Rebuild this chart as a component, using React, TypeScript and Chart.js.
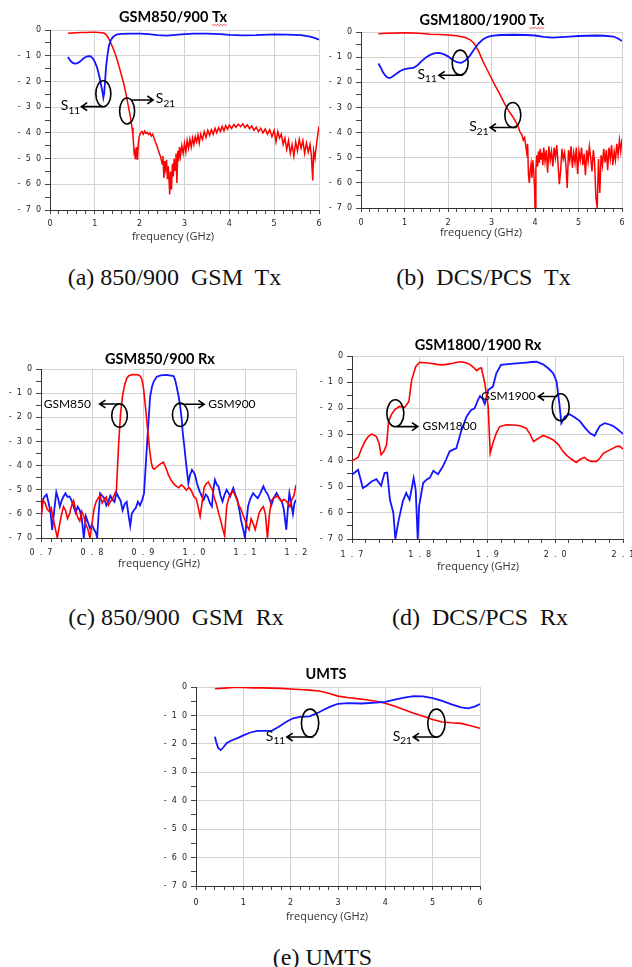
import React, { useEffect, useRef } from "react";
import { Chart, registerables } from "chart.js";

Chart.register(...registerables);

// ================= shared axis data =================
const yMajorTicks = [-70, -60, -50, -40, -30, -20, -10, 0];
const txXMajorTicks = [0, 1, 2, 3, 4, 5, 6];
const rxLowXMajorTicks = [0.7, 0.8, 0.9, 1.0, 1.1, 1.2];
const rxHighXMajorTicks = [1.7, 1.8, 1.9, 2.0, 2.1];

// ================= (a) GSM850/900 Tx =================
const aS11Freq = [0.40, 0.45, 0.50, 0.55, 0.60, 0.65, 0.70, 0.75, 0.80, 0.85, 0.90, 0.95, 1.00, 1.05, 1.10, 1.14, 1.17, 1.19, 1.21, 1.23, 1.25, 1.28, 1.31, 1.35, 1.40, 1.45, 1.50, 1.60, 1.80, 2.00, 2.20, 2.40, 2.60, 2.80, 3.00, 3.20, 3.50, 3.80, 4.00, 4.30, 4.60, 5.00, 5.30, 5.60, 5.80, 5.90, 6.00];
const aS11 = [-10.5, -11.8, -12.7, -13.1, -13.0, -12.5, -11.8, -11.0, -10.5, -10.2, -10.2, -10.9, -12.4, -14.6, -18.0, -21.5, -24.0, -26.3, -24.5, -19.5, -14.5, -10.0, -6.5, -4.2, -2.8, -2.1, -1.7, -1.5, -1.4, -1.4, -1.6, -2.0, -2.2, -1.9, -1.6, -1.4, -1.4, -1.6, -1.9, -2.1, -2.0, -1.7, -1.8, -2.0, -2.6, -3.1, -3.8];

const aS21Freq = [0.40, 0.50, 0.60, 0.70, 0.80, 0.90, 1.00, 1.10, 1.15, 1.20, 1.25, 1.30, 1.35, 1.40, 1.45, 1.50, 1.55, 1.60, 1.65, 1.70, 1.75, 1.80, 1.83, 1.85, 1.87, 1.88, 1.89, 1.90, 1.91, 1.92, 1.93, 1.95, 1.97, 1.99, 2.02, 2.05, 2.08, 2.11, 2.14, 2.17, 2.20, 2.23, 2.26, 2.29, 2.32, 2.35, 2.38, 2.41, 2.44, 2.47, 2.50, 2.52, 2.54, 2.56, 2.58, 2.60, 2.62, 2.64, 2.66, 2.67, 2.69, 2.71, 2.73, 2.75, 2.77, 2.79, 2.81, 2.83, 2.85, 2.87, 2.89, 2.91, 2.94, 2.97, 3.00, 3.03, 3.06, 3.09, 3.12, 3.15, 3.18, 3.21, 3.24, 3.27, 3.30, 3.33, 3.36, 3.40, 3.44, 3.48, 3.52, 3.56, 3.60, 3.64, 3.68, 3.72, 3.76, 3.80, 3.84, 3.88, 3.92, 3.96, 4.00, 4.05, 4.10, 4.15, 4.20, 4.25, 4.30, 4.35, 4.40, 4.45, 4.50, 4.55, 4.60, 4.65, 4.70, 4.75, 4.80, 4.85, 4.90, 4.95, 5.00, 5.04, 5.08, 5.12, 5.16, 5.20, 5.24, 5.28, 5.32, 5.36, 5.40, 5.44, 5.48, 5.52, 5.56, 5.60, 5.64, 5.68, 5.72, 5.76, 5.80, 5.83, 5.86, 5.88, 5.91, 5.94, 5.97, 6.00];
const aS21 = [-1.3, -1.2, -1.1, -1.0, -1.0, -0.9, -0.9, -1.0, -1.1, -1.2, -1.8, -3.0, -4.8, -6.8, -9.0, -11.8, -14.8, -18.0, -21.2, -25.2, -29.8, -34.5, -38.0, -41.0, -46.0, -48.5, -46.0, -50.0, -47.0, -49.0, -45.5, -50.5, -44.0, -41.5, -40.0, -39.5, -40.5, -39.3, -40.2, -39.8, -40.6, -40.0, -41.2, -40.5, -42.0, -43.5, -44.8, -46.5, -48.0, -49.5, -52.0, -49.0, -57.5, -51.0, -54.0, -50.5, -58.0, -53.0, -60.0, -64.0, -55.0, -62.0, -52.0, -57.0, -50.0, -54.5, -48.0, -59.5, -47.0, -51.0, -45.5, -49.0, -45.0, -48.0, -44.0, -47.5, -43.0, -46.0, -42.5, -45.5, -42.0, -44.5, -41.5, -43.5, -40.8, -44.0, -40.5, -42.5, -39.5, -41.8, -39.0, -41.0, -38.8, -40.5, -38.2, -40.0, -38.0, -39.5, -37.5, -39.2, -37.2, -38.6, -37.0, -38.3, -36.8, -37.8, -36.6, -37.6, -36.5, -38.0, -36.9, -38.4, -37.3, -39.0, -37.8, -39.5, -38.2, -40.0, -38.5, -40.5, -38.8, -41.5, -39.0, -43.5, -39.5, -42.0, -40.5, -44.5, -42.0, -46.5, -43.0, -48.0, -44.5, -49.0, -43.5, -47.0, -42.5, -46.0, -43.0, -48.0, -44.0, -47.5, -44.5, -49.0, -58.5, -47.0, -50.0, -45.0, -41.0, -37.5];

// ================= (b) GSM1800/1900 Tx =================
const bS11Freq = [0.40, 0.45, 0.50, 0.55, 0.60, 0.65, 0.70, 0.80, 0.90, 1.00, 1.10, 1.20, 1.30, 1.40, 1.50, 1.60, 1.70, 1.80, 1.90, 2.00, 2.10, 2.20, 2.30, 2.40, 2.50, 2.60, 2.70, 2.80, 2.90, 3.00, 3.20, 3.50, 3.80, 4.00, 4.20, 4.40, 4.60, 4.80, 5.00, 5.20, 5.40, 5.60, 5.80, 5.90, 6.00];
const bS11 = [-12.5, -14.0, -15.8, -17.2, -18.0, -18.3, -18.0, -16.8, -15.5, -14.8, -14.5, -14.3, -13.2, -11.5, -10.0, -9.0, -8.4, -8.3, -8.8, -9.7, -11.0, -12.0, -12.3, -11.3, -9.5, -7.0, -4.6, -3.0, -2.0, -1.5, -1.2, -1.1, -1.2, -1.4, -1.9, -2.2, -2.0, -1.8, -1.6, -1.5, -1.4, -1.5, -1.8, -2.5, -3.6];

const bS21Freq = [0.40, 0.60, 0.80, 1.00, 1.20, 1.40, 1.60, 1.80, 2.00, 2.20, 2.40, 2.50, 2.60, 2.70, 2.80, 2.90, 3.00, 3.10, 3.20, 3.30, 3.40, 3.50, 3.55, 3.60, 3.65, 3.70, 3.73, 3.76, 3.79, 3.81, 3.83, 3.85, 3.87, 3.89, 3.91, 3.93, 3.95, 3.97, 3.99, 4.00, 4.02, 4.04, 4.06, 4.08, 4.10, 4.12, 4.14, 4.16, 4.18, 4.20, 4.23, 4.26, 4.29, 4.32, 4.35, 4.38, 4.41, 4.44, 4.47, 4.50, 4.53, 4.56, 4.59, 4.62, 4.65, 4.68, 4.71, 4.74, 4.77, 4.80, 4.83, 4.86, 4.89, 4.92, 4.95, 4.98, 5.01, 5.04, 5.07, 5.10, 5.13, 5.16, 5.19, 5.22, 5.25, 5.28, 5.31, 5.34, 5.37, 5.40, 5.43, 5.46, 5.49, 5.52, 5.55, 5.58, 5.61, 5.64, 5.67, 5.70, 5.73, 5.76, 5.79, 5.82, 5.85, 5.88, 5.91, 5.94, 5.97, 6.00];
const bS21 = [-0.7, -0.5, -0.4, -0.3, -0.4, -0.6, -0.9, -1.0, -1.2, -1.5, -2.2, -3.0, -4.5, -7.5, -11.5, -15.0, -18.5, -21.8, -25.0, -28.5, -31.5, -34.0, -35.5, -37.0, -39.5, -41.0, -43.0, -42.0, -45.5, -48.0, -44.5, -57.0, -60.0, -55.0, -52.5, -58.0, -51.0, -55.0, -62.0, -70.0, -55.0, -49.0, -53.5, -47.5, -52.0, -46.5, -50.5, -48.0, -53.0, -46.0, -51.5, -47.0, -56.0, -45.5, -51.0, -47.5, -53.5, -46.0, -50.0, -45.0, -52.5, -60.5, -55.0, -46.5, -50.5, -48.0, -53.0, -62.0, -47.0, -51.0, -45.5, -54.0, -48.0, -52.0, -46.0, -56.5, -47.5, -51.0, -46.0, -53.0, -48.5, -57.0, -47.0, -51.5, -45.5, -50.0, -55.5, -47.0, -52.0, -66.0, -70.0, -50.5, -64.0, -49.0, -53.0, -46.5, -52.0, -47.0, -55.0, -46.0, -50.5, -45.0, -53.0, -47.5, -51.0, -44.5, -49.0, -43.0, -47.5, -42.5];

// ================= (c) GSM850/900 Rx =================
const cGsm850Freq = [0.700, 0.704, 0.708, 0.712, 0.716, 0.720, 0.724, 0.728, 0.732, 0.736, 0.740, 0.744, 0.748, 0.752, 0.756, 0.760, 0.764, 0.768, 0.772, 0.776, 0.780, 0.784, 0.788, 0.792, 0.796, 0.800, 0.804, 0.808, 0.812, 0.816, 0.820, 0.824, 0.828, 0.832, 0.836, 0.840, 0.844, 0.848, 0.852, 0.856, 0.860, 0.864, 0.868, 0.872, 0.880, 0.890, 0.895, 0.898, 0.901, 0.904, 0.907, 0.910, 0.913, 0.916, 0.919, 0.922, 0.926, 0.930, 0.935, 0.940, 0.945, 0.950, 0.955, 0.960, 0.965, 0.970, 0.975, 0.980, 0.985, 0.990, 0.995, 1.000, 1.004, 1.008, 1.012, 1.016, 1.020, 1.024, 1.028, 1.032, 1.036, 1.040, 1.044, 1.048, 1.052, 1.056, 1.060, 1.064, 1.068, 1.072, 1.076, 1.080, 1.084, 1.088, 1.092, 1.096, 1.100, 1.104, 1.108, 1.112, 1.116, 1.120, 1.124, 1.128, 1.132, 1.136, 1.140, 1.144, 1.148, 1.152, 1.156, 1.160, 1.164, 1.168, 1.172, 1.176, 1.180, 1.184, 1.188, 1.192, 1.196, 1.200];
const cGsm850 = [-62.4, -54.5, -55.5, -58.0, -59.0, -57.5, -62.0, -66.0, -70.0, -65.0, -60.5, -57.0, -58.5, -62.0, -60.0, -56.5, -54.5, -58.5, -61.5, -63.0, -59.0, -61.0, -64.5, -66.5, -70.0, -64.0, -58.0, -55.0, -53.5, -52.5, -55.5, -54.0, -53.0, -56.5, -55.0, -54.0, -52.0, -50.0, -32.0, -18.5, -11.0, -6.6, -3.9, -2.8, -2.3, -2.4, -3.0, -4.5, -8.0, -14.0, -20.5, -27.0, -33.5, -38.5, -41.0, -41.5, -40.8, -40.0, -39.2, -38.6, -41.0, -44.0, -46.0, -47.5, -48.5, -49.2, -48.0, -48.8, -50.2, -49.0, -50.5, -53.0, -53.5, -57.0, -61.0, -55.0, -49.0, -47.5, -46.8, -48.5, -50.0, -53.5, -56.0, -59.5, -62.5, -66.0, -69.0, -57.0, -53.5, -51.5, -50.5, -52.0, -54.0, -56.5, -58.0, -60.5, -62.5, -65.0, -66.6, -62.0, -64.0, -66.5, -63.0, -59.5, -58.0, -57.0, -60.0, -70.0, -60.0, -54.5, -53.5, -53.0, -52.5, -54.0, -55.0, -54.0, -54.5, -55.5, -57.0, -54.0, -52.5, -48.0];

const cGsm900Freq = [0.700, 0.703, 0.707, 0.711, 0.715, 0.719, 0.722, 0.726, 0.730, 0.734, 0.737, 0.741, 0.745, 0.748, 0.752, 0.756, 0.760, 0.764, 0.768, 0.772, 0.776, 0.780, 0.784, 0.788, 0.792, 0.796, 0.800, 0.804, 0.808, 0.810, 0.813, 0.816, 0.820, 0.824, 0.828, 0.832, 0.836, 0.840, 0.844, 0.848, 0.852, 0.856, 0.860, 0.864, 0.868, 0.872, 0.875, 0.878, 0.882, 0.886, 0.890, 0.894, 0.898, 0.902, 0.906, 0.911, 0.914, 0.918, 0.921, 0.927, 0.935, 0.945, 0.955, 0.960, 0.963, 0.966, 0.970, 0.973, 0.976, 0.978, 0.981, 0.983, 0.986, 0.989, 0.992, 0.996, 1.000, 1.002, 1.006, 1.011, 1.015, 1.019, 1.023, 1.027, 1.031, 1.035, 1.038, 1.041, 1.045, 1.048, 1.052, 1.056, 1.060, 1.064, 1.068, 1.071, 1.074, 1.077, 1.081, 1.085, 1.089, 1.092, 1.096, 1.100, 1.103, 1.106, 1.110, 1.116, 1.120, 1.125, 1.130, 1.136, 1.140, 1.145, 1.150, 1.152, 1.156, 1.162, 1.166, 1.172, 1.176, 1.181, 1.184, 1.187, 1.190, 1.194, 1.197, 1.200];
const cGsm900 = [-61.0, -54.5, -52.8, -52.0, -55.5, -60.0, -66.6, -58.5, -51.0, -54.0, -57.0, -54.2, -52.5, -51.5, -53.0, -52.8, -54.5, -57.0, -59.5, -57.0, -58.5, -62.0, -70.0, -61.0, -63.5, -66.0, -64.5, -66.5, -68.0, -70.0, -60.0, -51.5, -52.5, -53.5, -56.5, -55.0, -52.5, -54.0, -55.0, -51.4, -53.0, -54.5, -58.5, -56.0, -55.0, -61.0, -65.0, -60.0, -58.5, -57.5, -55.0, -56.5, -54.5, -51.5, -37.6, -21.0, -11.4, -7.0, -5.2, -3.2, -2.6, -2.4, -2.7, -2.9, -4.5, -7.3, -11.5, -15.6, -21.0, -26.6, -32.0, -36.2, -42.0, -47.3, -44.0, -41.8, -43.0, -43.8, -47.5, -50.7, -52.5, -54.2, -52.0, -53.0, -55.5, -56.9, -50.0, -45.9, -48.0, -48.6, -52.5, -54.8, -52.0, -50.0, -51.5, -52.8, -51.0, -49.3, -52.0, -54.2, -58.5, -62.4, -66.0, -70.0, -63.0, -56.9, -54.0, -51.4, -52.5, -53.5, -51.5, -48.6, -50.5, -52.1, -55.0, -56.2, -53.5, -51.4, -53.0, -54.8, -58.0, -66.6, -58.0, -51.4, -55.0, -60.0, -55.5, -54.2];

// ================= (d) GSM1800/1900 Rx =================
const dGsm1800Freq = [1.700, 1.709, 1.714, 1.719, 1.724, 1.729, 1.736, 1.740, 1.743, 1.747, 1.751, 1.754, 1.758, 1.763, 1.770, 1.778, 1.784, 1.788, 1.794, 1.800, 1.808, 1.815, 1.825, 1.834, 1.842, 1.849, 1.855, 1.861, 1.868, 1.874, 1.880, 1.884, 1.888, 1.891, 1.896, 1.901, 1.904, 1.908, 1.913, 1.918, 1.928, 1.938, 1.948, 1.957, 1.963, 1.968, 1.975, 1.982, 1.990, 1.997, 2.005, 2.010, 2.016, 2.024, 2.031, 2.037, 2.043, 2.048, 2.053, 2.061, 2.066, 2.071, 2.080, 2.090, 2.095, 2.100];
const dGsm1800 = [-40.1, -38.8, -35.5, -32.7, -30.8, -29.8, -30.8, -33.5, -37.8, -36.5, -34.0, -25.0, -22.5, -20.6, -19.3, -19.6, -17.4, -9.2, -4.1, -2.4, -2.6, -2.8, -3.2, -3.4, -3.1, -2.8, -2.4, -2.2, -2.6, -3.2, -4.5, -5.6, -4.8, -4.5, -10.4, -19.3, -37.2, -33.3, -29.5, -27.0, -26.3, -26.4, -26.7, -27.6, -30.0, -32.7, -31.5, -30.4, -31.2, -32.1, -34.0, -36.0, -37.8, -39.5, -40.7, -39.5, -38.8, -39.8, -40.3, -40.3, -39.0, -37.2, -36.0, -34.6, -34.5, -35.6];

const dGsm1900Freq = [1.700, 1.709, 1.716, 1.722, 1.729, 1.736, 1.743, 1.748, 1.752, 1.756, 1.761, 1.764, 1.768, 1.775, 1.780, 1.785, 1.791, 1.794, 1.797, 1.799, 1.805, 1.810, 1.815, 1.820, 1.827, 1.834, 1.839, 1.844, 1.849, 1.854, 1.861, 1.869, 1.876, 1.881, 1.886, 1.889, 1.893, 1.896, 1.901, 1.908, 1.913, 1.920, 1.930, 1.943, 1.957, 1.965, 1.972, 1.982, 1.990, 1.997, 2.002, 2.006, 2.009, 2.014, 2.021, 2.028, 2.036, 2.044, 2.051, 2.058, 2.062, 2.066, 2.073, 2.080, 2.085, 2.092, 2.100];
const dGsm1900 = [-45.4, -43.5, -50.5, -49.5, -48.0, -47.1, -49.6, -44.8, -44.6, -55.0, -60.0, -70.0, -63.9, -55.6, -52.4, -55.0, -46.7, -51.2, -70.0, -57.5, -48.6, -47.3, -46.5, -43.9, -45.2, -42.3, -39.5, -36.5, -35.8, -35.3, -28.9, -23.2, -20.6, -20.0, -16.8, -15.3, -16.5, -18.3, -13.0, -11.7, -6.6, -3.4, -3.1, -2.8, -2.5, -2.3, -2.2, -3.2, -4.8, -6.6, -9.8, -18.0, -25.7, -23.2, -22.3, -23.3, -24.8, -27.5, -29.5, -30.5, -28.5, -26.7, -25.7, -26.2, -26.7, -28.0, -29.8];

// ================= (e) UMTS =================
const eS11Freq = [0.40, 0.43, 0.47, 0.52, 0.58, 0.65, 0.75, 0.90, 1.00, 1.15, 1.30, 1.45, 1.60, 1.75, 1.90, 2.05, 2.20, 2.40, 2.55, 2.70, 2.85, 3.00, 3.20, 3.50, 3.80, 4.00, 4.20, 4.40, 4.60, 4.80, 5.00, 5.20, 5.40, 5.60, 5.75, 5.90, 6.00];
const eS11 = [-17.5, -19.5, -21.5, -22.2, -21.2, -19.7, -18.8, -17.8, -17.0, -16.0, -15.4, -15.4, -15.4, -14.0, -12.3, -11.0, -10.5, -10.3, -9.3, -8.0, -6.8, -5.9, -5.7, -5.8, -5.5, -5.2, -4.4, -3.7, -3.2, -3.3, -3.9, -4.9, -6.1, -7.2, -7.5, -6.8, -6.0];

const eS21Freq = [0.40, 0.60, 0.80, 1.00, 1.20, 1.40, 1.60, 1.80, 2.00, 2.20, 2.40, 2.60, 2.80, 3.00, 3.20, 3.40, 3.60, 3.80, 4.00, 4.20, 4.40, 4.60, 4.80, 5.00, 5.20, 5.40, 5.60, 5.80, 6.00];
const eS21 = [-0.6, -0.4, -0.2, -0.2, -0.3, -0.3, -0.4, -0.5, -0.7, -0.9, -1.1, -1.4, -2.2, -3.2, -3.7, -4.1, -4.5, -5.0, -5.7, -6.8, -8.0, -9.2, -10.3, -11.4, -12.3, -12.6, -12.8, -13.6, -14.5];

// ================= annotation anchors (data coordinates) =================
type Note =
  | { kind: "ellipse"; x: number; y: number }
  | { kind: "arrow"; x1: number; y1: number; x2: number; y2: number }
  | { kind: "label"; x: number; y: number; text: string; sub?: string; align: "left" | "right" };

const aNotes: Note[] = [
  { kind: "ellipse", x: 1.19, y: -24.8 },
  { kind: "arrow", x1: 1.19, y1: -29.8, x2: 0.70, y2: -29.8 },
  { kind: "label", x: 0.67, y: -29.8, text: "S", sub: "11", align: "right" },
  { kind: "ellipse", x: 1.72, y: -31.5 },
  { kind: "arrow", x1: 1.82, y1: -27.2, x2: 2.30, y2: -27.2 },
  { kind: "label", x: 2.36, y: -27.2, text: "S", sub: "21", align: "left" },
];
const bNotes: Note[] = [
  { kind: "ellipse", x: 2.28, y: -12.2 },
  { kind: "arrow", x1: 2.34, y1: -17.2, x2: 1.79, y2: -17.2 },
  { kind: "label", x: 1.74, y: -17.2, text: "S", sub: "11", align: "right" },
  { kind: "ellipse", x: 3.49, y: -33.0 },
  { kind: "arrow", x1: 3.58, y1: -38.0, x2: 2.97, y2: -38.0 },
  { kind: "label", x: 2.93, y: -38.0, text: "S", sub: "21", align: "right" },
];
const cNotes: Note[] = [
  { kind: "ellipse", x: 0.854, y: -19.3 },
  { kind: "arrow", x1: 0.852, y1: -14.5, x2: 0.815, y2: -14.5 },
  { kind: "label", x: 0.798, y: -14.5, text: "GSM850", align: "right" },
  { kind: "ellipse", x: 0.973, y: -19.0 },
  { kind: "arrow", x1: 0.976, y1: -14.6, x2: 1.020, y2: -14.6 },
  { kind: "label", x: 1.028, y: -14.6, text: "GSM900", align: "left" },
];
const dNotes: Note[] = [
  { kind: "ellipse", x: 1.764, y: -21.9 },
  { kind: "arrow", x1: 1.766, y1: -27.0, x2: 1.797, y2: -27.0 },
  { kind: "label", x: 1.804, y: -27.0, text: "GSM1800", align: "left" },
  { kind: "ellipse", x: 2.008, y: -19.6 },
  { kind: "arrow", x1: 2.003, y1: -15.5, x2: 1.975, y2: -15.5 },
  { kind: "label", x: 1.971, y: -15.5, text: "GSM1900", align: "right" },
];
const eNotes: Note[] = [
  { kind: "ellipse", x: 2.41, y: -12.7 },
  { kind: "arrow", x1: 2.48, y1: -17.6, x2: 1.92, y2: -17.6 },
  { kind: "label", x: 1.88, y: -17.6, text: "S", sub: "11", align: "right" },
  { kind: "ellipse", x: 5.08, y: -12.7 },
  { kind: "arrow", x1: 5.08, y1: -17.6, x2: 4.59, y2: -17.6 },
  { kind: "label", x: 4.56, y: -17.6, text: "S", sub: "21", align: "right" },
];

// ================= styles / layout =================
const RED = "rgb(255,0,0)";
const BLUE = "rgb(20,20,255)";

interface Series { freq: number[]; vals: number[]; color: string; width: number }
interface Panel {
  id: string;
  title: string;
  squiggle: boolean;
  series: Series[];
  xMajor: number[];
  xMinorPer: number;
  xDecimals: number;
  notes: Note[];
  L: number; T: number; W: number; H: number;
  pl: number; pr: number; pt: number; pb: number;
  titleX: number; titleY: number;
  axisLabelX: number; axisLabelY: number;
  tickY: number;
  erx: number; ery: number;
}

const panels: Panel[] = [
  {
    id: "a", title: "GSM850/900 Tx", squiggle: true,
    series: [{ freq: aS11Freq, vals: aS11, color: BLUE, width: 1.8 }, { freq: aS21Freq, vals: aS21, color: RED, width: 1.5 }],
    xMajor: txXMajorTicks, xMinorPer: 5, xDecimals: 0, notes: aNotes,
    L: 0, T: 0, W: 324, H: 248, pl: 50, pr: 319, pt: 30, pb: 210,
    titleX: 173, titleY: 17, axisLabelX: 173, axisLabelY: 237, tickY: 224, erx: 7.5, ery: 13,
  },
  {
    id: "b", title: "GSM1800/1900 Tx", squiggle: true,
    series: [{ freq: bS11Freq, vals: bS11, color: BLUE, width: 1.8 }, { freq: bS21Freq, vals: bS21, color: RED, width: 1.5 }],
    xMajor: txXMajorTicks, xMinorPer: 5, xDecimals: 0, notes: bNotes,
    L: 324, T: 0, W: 308, H: 248, pl: 361, pr: 622, pt: 32, pb: 208,
    titleX: 482, titleY: 20, axisLabelX: 481, axisLabelY: 233, tickY: 223, erx: 8, ery: 12.5,
  },
  {
    id: "c", title: "GSM850/900 Rx", squiggle: false,
    series: [{ freq: cGsm850Freq, vals: cGsm850, color: RED, width: 1.6 }, { freq: cGsm900Freq, vals: cGsm900, color: BLUE, width: 1.8 }],
    xMajor: rxLowXMajorTicks, xMinorPer: 5, xDecimals: 1, notes: cNotes,
    L: 0, T: 330, W: 314, H: 248, pl: 41, pr: 296, pt: 369, pb: 538,
    titleX: 160, titleY: 359, axisLabelX: 159, axisLabelY: 564, tickY: 553, erx: 7.8, ery: 11.7,
  },
  {
    id: "d", title: "GSM1800/1900 Rx", squiggle: false,
    series: [{ freq: dGsm1800Freq, vals: dGsm1800, color: RED, width: 1.6 }, { freq: dGsm1900Freq, vals: dGsm1900, color: BLUE, width: 1.8 }],
    xMajor: rxHighXMajorTicks, xMinorPer: 5, xDecimals: 1, notes: dNotes,
    L: 314, T: 330, W: 318, H: 248, pl: 352, pr: 623, pt: 356, pb: 539,
    titleX: 478, titleY: 345, axisLabelX: 478, axisLabelY: 567, tickY: 555, erx: 8.5, ery: 13.5,
  },
  {
    id: "e", title: "UMTS", squiggle: false,
    series: [{ freq: eS11Freq, vals: eS11, color: BLUE, width: 1.8 }, { freq: eS21Freq, vals: eS21, color: RED, width: 1.6 }],
    xMajor: txXMajorTicks, xMinorPer: 5, xDecimals: 0, notes: eNotes,
    L: 150, T: 655, W: 340, H: 272, pl: 196, pr: 480, pt: 687, pb: 886,
    titleX: 326, titleY: 674, axisLabelX: 327, axisLabelY: 917, tickY: 903, erx: 8.7, ery: 14,
  },
];

const captions = [
  { text: "(a) 850/900  GSM  Tx", x: 174.5, y: 264.5 },
  { text: "(b)  DCS/PCS  Tx", x: 483.5, y: 264.5 },
  { text: "(c) 850/900  GSM  Rx", x: 176, y: 604.5 },
  { text: "(d)  DCS/PCS  Rx", x: 480, y: 604.5 },
  { text: "(e) UMTS", x: 322.5, y: 945 },
];

// ================= helpers =================
function subdivide(major: number[], per: number): number[] {
  const out: number[] = [];
  for (let i = 0; i < major.length; i++) {
    out.push(major[i]);
    if (i < major.length - 1) {
      for (let k = 1; k < per; k++) {
        out.push(+(major[i] + ((major[i + 1] - major[i]) * k) / per).toFixed(6));
      }
    }
  }
  return out;
}
const isMajor = (v: number, major: number[]) => major.some((m) => Math.abs(m - v) < 1e-6);
const spaced = (v: number, decimals: number) => v.toFixed(decimals).split("").join("  ");

const TICK_FONT = { family: "DejaVu Sans", size: 8 };
const GRID_COLOR = "#d2d2d2";

function overlayPlugin(p: Panel) {
  return {
    id: "overlay-" + p.id,
    afterDraw(chart: any) {
      const ctx: CanvasRenderingContext2D = chart.ctx;
      const xs = chart.scales.x;
      const ys = chart.scales.y;
      ctx.save();
      // title
      ctx.fillStyle = "#000";
      ctx.font = "bold 14.5px Lato";
      ctx.textAlign = "center";
      ctx.textBaseline = "middle";
      const tx = p.titleX - p.L;
      const ty = p.titleY - p.T;
      ctx.fillText(p.title, tx, ty);
      if (p.squiggle) {
        const full = ctx.measureText(p.title).width;
        const wLast = ctx.measureText("Tx").width;
        const startX = tx + full / 2 - wLast;
        ctx.strokeStyle = "rgb(230,40,40)";
        ctx.lineWidth = 0.8;
        ctx.beginPath();
        let up = true;
        for (let x = startX; x <= startX + wLast; x += 1.5) {
          const yy = ty + 8 + (up ? -0.7 : 0.7);
          if (x === startX) ctx.moveTo(x, yy); else ctx.lineTo(x, yy);
          up = !up;
        }
        ctx.stroke();
      }
      // axis label
      ctx.fillStyle = "#333";
      ctx.font = '11px "Open Sans"';
      ctx.fillText("frequency (GHz)", p.axisLabelX - p.L, p.axisLabelY - p.T);

      // annotations
      ctx.strokeStyle = "#000";
      ctx.fillStyle = "#000";
      ctx.lineWidth = 1.6;
      for (const n of p.notes) {
        if (n.kind === "ellipse") {
          ctx.beginPath();
          ctx.ellipse(xs.getPixelForValue(n.x), ys.getPixelForValue(n.y), p.erx, p.ery, 0, 0, Math.PI * 2);
          ctx.stroke();
        } else if (n.kind === "arrow") {
          const x1 = xs.getPixelForValue(n.x1), y1 = ys.getPixelForValue(n.y1);
          const x2 = xs.getPixelForValue(n.x2), y2 = ys.getPixelForValue(n.y2);
          ctx.beginPath();
          ctx.moveTo(x1, y1);
          ctx.lineTo(x2, y2);
          const ang = Math.atan2(y2 - y1, x2 - x1);
          const hl = 7;
          ctx.moveTo(x2 - hl * Math.cos(ang - 0.6), y2 - hl * Math.sin(ang - 0.6));
          ctx.lineTo(x2, y2);
          ctx.lineTo(x2 - hl * Math.cos(ang + 0.6), y2 - hl * Math.sin(ang + 0.6));
          ctx.stroke();
        } else {
          const px = xs.getPixelForValue(n.x), py = ys.getPixelForValue(n.y);
          ctx.textBaseline = "middle";
          ctx.textAlign = "left";
          if (n.sub) {
            ctx.font = "14px Lato";
            const w1 = ctx.measureText(n.text).width;
            ctx.font = "10px Lato";
            const w2 = ctx.measureText(n.sub).width;
            const start = n.align === "right" ? px - w1 - w2 : px;
            ctx.font = "14px Lato";
            ctx.fillText(n.text, start, py - 1);
            ctx.font = "10px Lato";
            ctx.fillText(n.sub, start + w1, py + 4);
          } else {
            ctx.font = "12px Lato";
            ctx.textAlign = n.align;
            ctx.fillText(n.text, px, py);
          }
        }
      }
      ctx.restore();
    },
  };
}

function makeConfig(p: Panel): any {
  const xTicks = subdivide(p.xMajor, p.xMinorPer);
  const yTicks = subdivide(yMajorTicks, 2);
  const xMin = p.xMajor[0];
  const xMax = p.xMajor[p.xMajor.length - 1];
  const tickLenX = 4;
  const tickLenY = 5;
  return {
    type: "line",
    data: {
      datasets: p.series.map((s) => ({
        data: s.freq.map((f, i) => ({ x: f, y: s.vals[i] })),
        borderColor: s.color,
        borderWidth: s.width,
        pointRadius: 0,
        tension: 0,
        fill: false,
      })),
    },
    options: {
      responsive: false,
      animation: false,
      devicePixelRatio: 1,
      events: [],
      layout: { padding: { left: 0, top: p.pt - p.T, right: p.L + p.W - p.pr, bottom: 0 } },
      plugins: { legend: { display: false }, tooltip: { enabled: false }, title: { display: false } },
      scales: {
        x: {
          type: "linear",
          min: xMin,
          max: xMax,
          afterBuildTicks: (s: any) => { s.ticks = xTicks.map((v) => ({ value: v })); },
          afterFit: (s: any) => {
            s.height = p.T + p.H - p.pb;
            s.paddingLeft = 0; s.paddingRight = 0; s.paddingTop = 0; s.paddingBottom = 0;
          },
          ticks: {
            autoSkip: false,
            maxRotation: 0,
            minRotation: 0,
            padding: p.tickY - p.pb - tickLenX - 4.8,
            font: TICK_FONT,
            color: "#222",
            callback: (v: number) => (isMajor(v, p.xMajor) ? spaced(v, p.xDecimals) : ""),
          },
          grid: {
            color: (c: any) => (c.tick && isMajor(c.tick.value, p.xMajor) ? GRID_COLOR : "rgba(0,0,0,0)"),
            tickColor: "#444",
            tickLength: tickLenX,
            tickWidth: 1,
            lineWidth: 1,
          },
          border: { color: "#333", width: 1 },
        },
        y: {
          type: "linear",
          min: -70,
          max: 0,
          afterBuildTicks: (s: any) => { s.ticks = yTicks.map((v) => ({ value: v })); },
          afterFit: (s: any) => {
            s.width = p.pl - p.L;
            s.paddingLeft = 0; s.paddingRight = 0; s.paddingTop = 0; s.paddingBottom = 0;
          },
          ticks: {
            autoSkip: false,
            padding: 4,
            font: TICK_FONT,
            color: "#222",
            callback: (v: number) => (isMajor(v, yMajorTicks) ? spaced(v, 0) : ""),
          },
          grid: {
            color: (c: any) => (c.tick && isMajor(c.tick.value, yMajorTicks) ? GRID_COLOR : "rgba(0,0,0,0)"),
            tickColor: "#444",
            tickLength: tickLenY,
            tickWidth: 1,
            lineWidth: 1,
          },
          border: { color: "#333", width: 1 },
        },
      },
    },
    plugins: [overlayPlugin(p)],
  };
}

function PanelChart({ p }: { p: Panel }) {
  const ref = useRef<HTMLCanvasElement | null>(null);
  useEffect(() => {
    if (!ref.current) return;
    const chart = new Chart(ref.current, makeConfig(p));
    return () => chart.destroy();
  }, [p]);
  return (
    <canvas
      ref={ref}
      width={p.W}
      height={p.H}
      style={{ position: "absolute", left: p.L, top: p.T, width: p.W, height: p.H }}
    />
  );
}

export default function App() {
  return (
    <div style={{ position: "absolute", left: 0, top: 0, width: 632, height: 967, background: "#fff", overflow: "hidden" }}>
      {panels.map((p) => (
        <PanelChart key={p.id} p={p} />
      ))}
      {captions.map((c) => (
        <div
          key={c.text}
          style={{
            position: "absolute",
            left: c.x,
            top: c.y,
            transform: "translateX(-50%)",
            fontFamily: '"Liberation Serif", "DejaVu Serif", serif',
            fontSize: 24,
            lineHeight: "24px",
            whiteSpace: "pre",
            color: "#111",
          }}
        >
          {c.text}
        </div>
      ))}
    </div>
  );
}
